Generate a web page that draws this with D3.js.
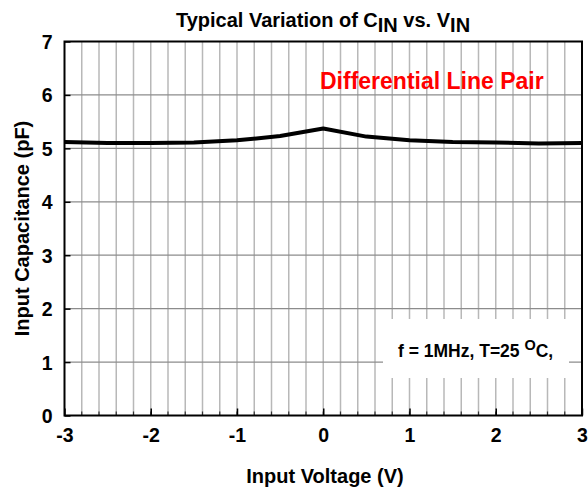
<!DOCTYPE html>
<html><head><meta charset="utf-8">
<script src="https://cdn.jsdelivr.net/npm/d3@7/dist/d3.min.js"></script>
<style>body{margin:0;background:#fff}svg{display:block}text{font-family:"Liberation Sans",Arial,sans-serif;font-weight:bold}</style>
</head><body>
<svg id="c" width="588" height="488"></svg>
<script>
const voltage = [-3, -2.5, -2, -1.5, -1, -0.5, 0, 0.5, 1, 1.5, 2, 2.5, 3];
const capacitance = [5.12, 5.10, 5.10, 5.11, 5.15, 5.23, 5.37, 5.22, 5.15, 5.12, 5.11, 5.09, 5.10];
const xTicks = [-3, -2, -1, 0, 1, 2, 3];
const yTicks = [0, 1, 2, 3, 4, 5, 6, 7];
const xMinor = d3.range(-28, 29, 2).map(d => d / 10);

const svg = d3.select("#c");
const L = 64.5, R = 582, T = 41.5, B = 415.5;
const x = d3.scaleLinear().domain([-3, 3]).range([L, R]);
const y = d3.scaleLinear().domain([0, 7]).range([B, T]);

// grid
svg.append("g").selectAll("line").data(xMinor).join("line")
  .attr("x1", d => x(d)).attr("x2", d => x(d)).attr("y1", T).attr("y2", B)
  .attr("stroke", "#b8b8b8").attr("stroke-width", 1.5);
svg.append("g").selectAll("line").data(yTicks.slice(1, -1)).join("line")
  .attr("y1", d => y(d)).attr("y2", d => y(d)).attr("x1", L).attr("x2", R)
  .attr("stroke", "#8c8c8c").attr("stroke-width", 1.2);

// annotation box background
svg.append("rect").attr("x", 383).attr("y", 319).attr("width", 186).attr("height", 59).attr("fill", "#fff");

// minor ticks on bottom axis
svg.append("g").selectAll("line").data(xMinor).join("line")
  .attr("x1", d => x(d)).attr("x2", d => x(d)).attr("y1", B).attr("y2", B - 4)
  .attr("stroke", "#333").attr("stroke-width", 1.2);

// axes with inward ticks
const fmt = d => String(d);
const xAxis = svg.append("g").attr("transform", `translate(0,${B})`)
  .call(d3.axisBottom(x).tickValues(xTicks).tickSize(-7).tickPadding(13).tickFormat(fmt));
const yAxis = svg.append("g").attr("transform", `translate(${L},0)`)
  .call(d3.axisLeft(y).tickValues(yTicks).tickSize(-6).tickPadding(12).tickFormat(fmt));
[xAxis, yAxis].forEach(a => {
  a.select(".domain").remove();
  a.selectAll(".tick line").attr("stroke", "#000").attr("stroke-width", 1.5);
  a.selectAll("text").attr("font-size", 19.5).attr("fill", "#000")
    .style("font-family", '"Liberation Sans",Arial,sans-serif').style("font-weight", "bold");
});
yAxis.selectAll("text").attr("dy", "0.36em");
xAxis.selectAll("text").attr("dy", "0.71em");

// frame
svg.append("rect").attr("x", L).attr("y", T).attr("width", R - L).attr("height", B - T)
  .attr("fill", "none").attr("stroke", "#000").attr("stroke-width", 2);

// curve
const line = d3.line().x((d, i) => x(voltage[i])).y(d => y(d));
svg.append("path").datum(capacitance).attr("d", line)
  .attr("fill", "none").attr("stroke", "#000").attr("stroke-width", 4).attr("stroke-linejoin", "round");

// title
const title = svg.append("text").attr("x", 323).attr("y", 27).attr("text-anchor", "middle").attr("font-size", 20);
title.append("tspan").text("Typical Variation of C");
title.append("tspan").text("IN").attr("dy", 5);
title.append("tspan").text(" vs. V").attr("dy", -5);
title.append("tspan").text("IN").attr("dy", 5);

// red annotation
svg.append("text").attr("x", 320).attr("y", 89).attr("font-size", 23).attr("fill", "#ff0000")
  .text("Differential Line Pair");

// conditions
const cond = svg.append("text").attr("x", 398).attr("y", 357).attr("font-size", 17.5);
cond.append("tspan").text("f = 1MHz, T=25 ");
cond.append("tspan").text("O").attr("dy", -7).attr("font-size", 14.5);
cond.append("tspan").text("C,").attr("dy", 7);

// axis labels
svg.append("text").attr("x", 325).attr("y", 483).attr("text-anchor", "middle").attr("font-size", 20)
  .text("Input Voltage (V)");
svg.append("text").attr("transform", `translate(29,${(T + B) / 2}) rotate(-90)`).attr("text-anchor", "middle")
  .attr("font-size", 20).text("Input Capacitance (pF)");
</script>
</body></html>
